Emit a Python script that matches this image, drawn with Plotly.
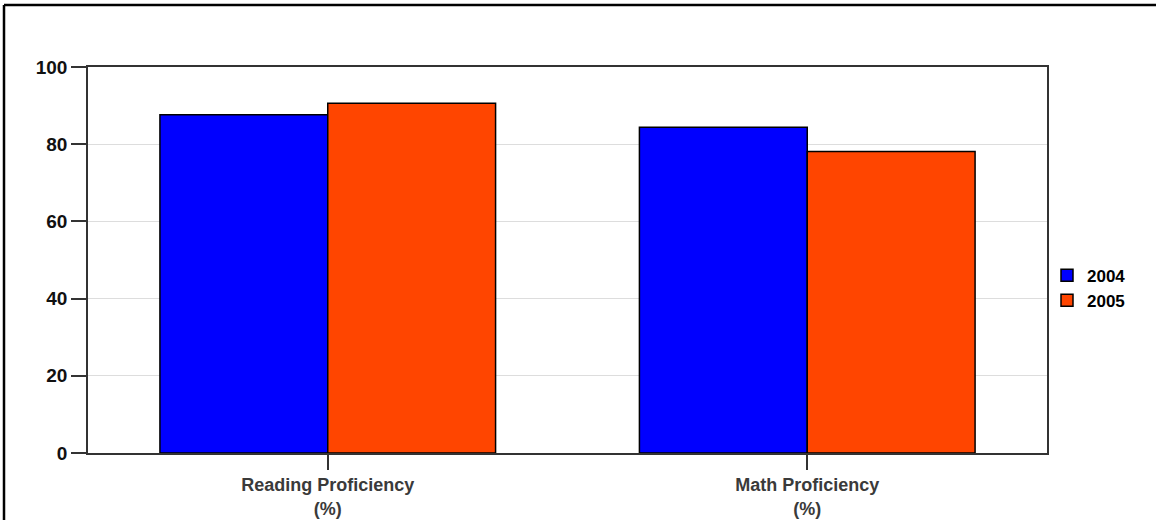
import plotly.graph_objects as go

categories = ["Reading Proficiency<br>(%)", "Math Proficiency<br>(%)"]
years = ["2004", "2005"]
values_2004 = [87.6, 84.4]
values_2005 = [90.6, 78.1]
colors = ["#0000FF", "#FF4500"]
y_ticks = [0, 20, 40, 60, 80, 100]

W, H = 1156, 520
L, R, T, B = 88, 109, 67, 67
pw, ph = W - L - R, H - T - B

fig = go.Figure()
for name, vals, col in zip(years, [values_2004, values_2005], colors):
    fig.add_trace(go.Bar(
        x=categories, y=vals, name=name,
        marker=dict(color=col, line=dict(color="#000000", width=1.5)),
    ))

font = "Liberation Sans, Arial, Helvetica, sans-serif"
fig.update_layout(
    width=W, height=H,
    margin=dict(l=L, r=R, t=T, b=B, autoexpand=False),
    paper_bgcolor="white", plot_bgcolor="white",
    barmode="group", bargap=0.3, bargroupgap=0,
    font=dict(family=font, size=13, color="#000"),
    showlegend=True,
    legend=dict(x=1.0, y=0.427, xanchor="left", yanchor="middle",
                font=dict(size=17, color="#000", weight="bold"),
                itemwidth=30, tracegroupgap=0, bgcolor="rgba(0,0,0,0)"),
    xaxis=dict(showline=True, linecolor="#333", linewidth=1.5, mirror=True,
               ticks="outside", ticklen=15, tickcolor="#333", tickwidth=1.5,
               tickfont=dict(size=18, color="#3a3a3a", weight="bold"),
               showgrid=False, automargin=False),
    yaxis=dict(range=[0, 100], tickvals=y_ticks, showline=True, linecolor="#333",
               linewidth=1.5, mirror=True, ticks="outside", ticklen=15,
               tickcolor="#333", tickwidth=1.5,
               tickfont=dict(size=19, color="#111", weight="bold"),
               showgrid=True, gridcolor="#dddddd", gridwidth=1, zeroline=False,
               automargin=False),
)

# outer frame (top and left edges)
x0 = (4 - L) / pw
y0 = (H - B - 5) / ph
fig.add_shape(type="line", xref="paper", yref="paper", x0=x0, x1=(W + 10 - L) / pw,
              y0=y0, y1=y0, line=dict(color="#000", width=2.5))
fig.add_shape(type="line", xref="paper", yref="paper", x0=x0, x1=x0,
              y0=y0, y1=-(B + 10) / ph, line=dict(color="#000", width=2.5))

fig.write_html("out.html", config={"displayModeBar": False},
               post_script="document.body.style.margin='0';document.body.style.overflow='hidden';")
